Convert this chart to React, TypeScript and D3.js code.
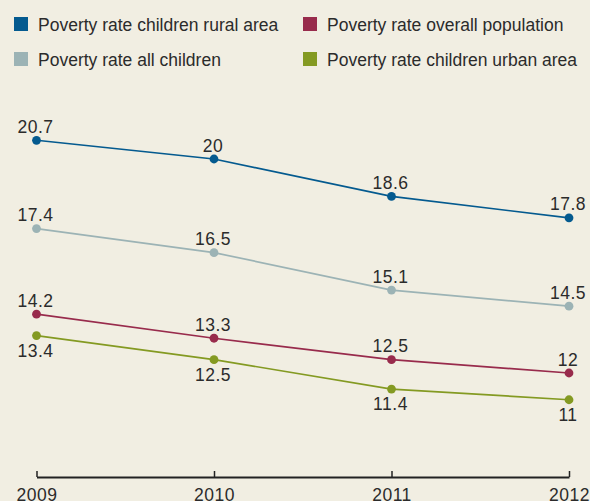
import React, { useEffect, useRef } from "react";
import * as d3 from "d3";

// Poverty rates (%) by year
const years = ["2009", "2010", "2011", "2012"];
const ruralChildren = [20.7, 20, 18.6, 17.8];
const allChildren = [17.4, 16.5, 15.1, 14.5];
const overallPopulation = [14.2, 13.3, 12.5, 12];
const urbanChildren = [13.4, 12.5, 11.4, 11];

const seriesNames = [
  "Poverty rate children rural area",
  "Poverty rate overall population",
  "Poverty rate all children",
  "Poverty rate children urban area",
];

const W = 590;
const H = 501;
const BG = "#f1eee2";
const INK = "#2b2b2b";
const FONT = "'Liberation Sans', Arial, sans-serif";

type Series = { name: string; values: number[]; color: string; labelBelow: boolean };

const series: Series[] = [
  { name: seriesNames[0], values: ruralChildren, color: "#045a8f", labelBelow: false },
  { name: seriesNames[2], values: allChildren, color: "#9cb3b5", labelBelow: false },
  { name: seriesNames[1], values: overallPopulation, color: "#982b4c", labelBelow: false },
  { name: seriesNames[3], values: urbanChildren, color: "#849a22", labelBelow: true },
];

// legend: two columns, two rows
const legendItems = [
  { name: seriesNames[0], color: "#045a8f", x: 14, y: 17 },
  { name: seriesNames[1], color: "#982b4c", x: 303, y: 17 },
  { name: seriesNames[2], color: "#9cb3b5", x: 14, y: 52 },
  { name: seriesNames[3], color: "#849a22", x: 303, y: 52 },
];

export default function App() {
  const axisRef = useRef<SVGGElement>(null);

  const x = d3.scalePoint<string>().domain(years).range([36.5, 569]);
  const y = d3.scaleLinear().domain([8, 22]).range([480, 105.5]);
  const axisY = 477;

  useEffect(() => {
    if (!axisRef.current) return;
    const g = d3.select(axisRef.current);
    g.selectAll("*").remove();
    g.call(
      d3
        .axisBottom(x)
        .tickSizeInner(-6)
        .tickSizeOuter(0)
        .tickPadding(12)
    );
    g.select(".domain").attr("stroke", "#222").attr("stroke-width", 2);
    g.selectAll(".tick line").attr("stroke", "#222").attr("stroke-width", 1.5);
    g.selectAll(".tick text")
      .attr("fill", INK)
      .attr("font-family", FONT)
      .attr("font-size", 17.5)
      .attr("letter-spacing", 0.5);
  }, []);

  const line = d3
    .line<number>()
    .x((_, i) => x(years[i]) as number)
    .y((v) => y(v));

  return (
    <svg
      width={W}
      height={H}
      style={{ position: "absolute", left: 0, top: 0, background: BG, display: "block" }}
    >
      <rect width={W} height={H} fill={BG} />

      <g>
        {legendItems.map((it) => (
          <g key={it.name}>
            <rect x={it.x} y={it.y} width={14} height={14} fill={it.color} />
            <text
              x={it.x + 24}
              y={it.y + 13.5}
              fill={INK}
              fontFamily={FONT}
              fontSize={17.5}
            >
              {it.name}
            </text>
          </g>
        ))}
      </g>

      <g ref={axisRef} transform={`translate(0,${axisY})`} />

      {series.map((s) => (
        <g key={s.name}>
          <path d={line(s.values) || ""} fill="none" stroke={s.color} strokeWidth={1.7} />
          {s.values.map((v, i) => (
            <circle key={i} cx={x(years[i])} cy={y(v)} r={4.4} fill={s.color} />
          ))}
          {s.values.map((v, i) => (
            <text
              key={"l" + i}
              x={(x(years[i]) as number) - 1}
              y={s.labelBelow ? y(v) + 21 : y(v) - 7.5}
              textAnchor="middle"
              fill={INK}
              fontFamily={FONT}
              fontSize={17.5}
              letterSpacing={0.5}
            >
              {String(v)}
            </text>
          ))}
        </g>
      ))}
    </svg>
  );
}
